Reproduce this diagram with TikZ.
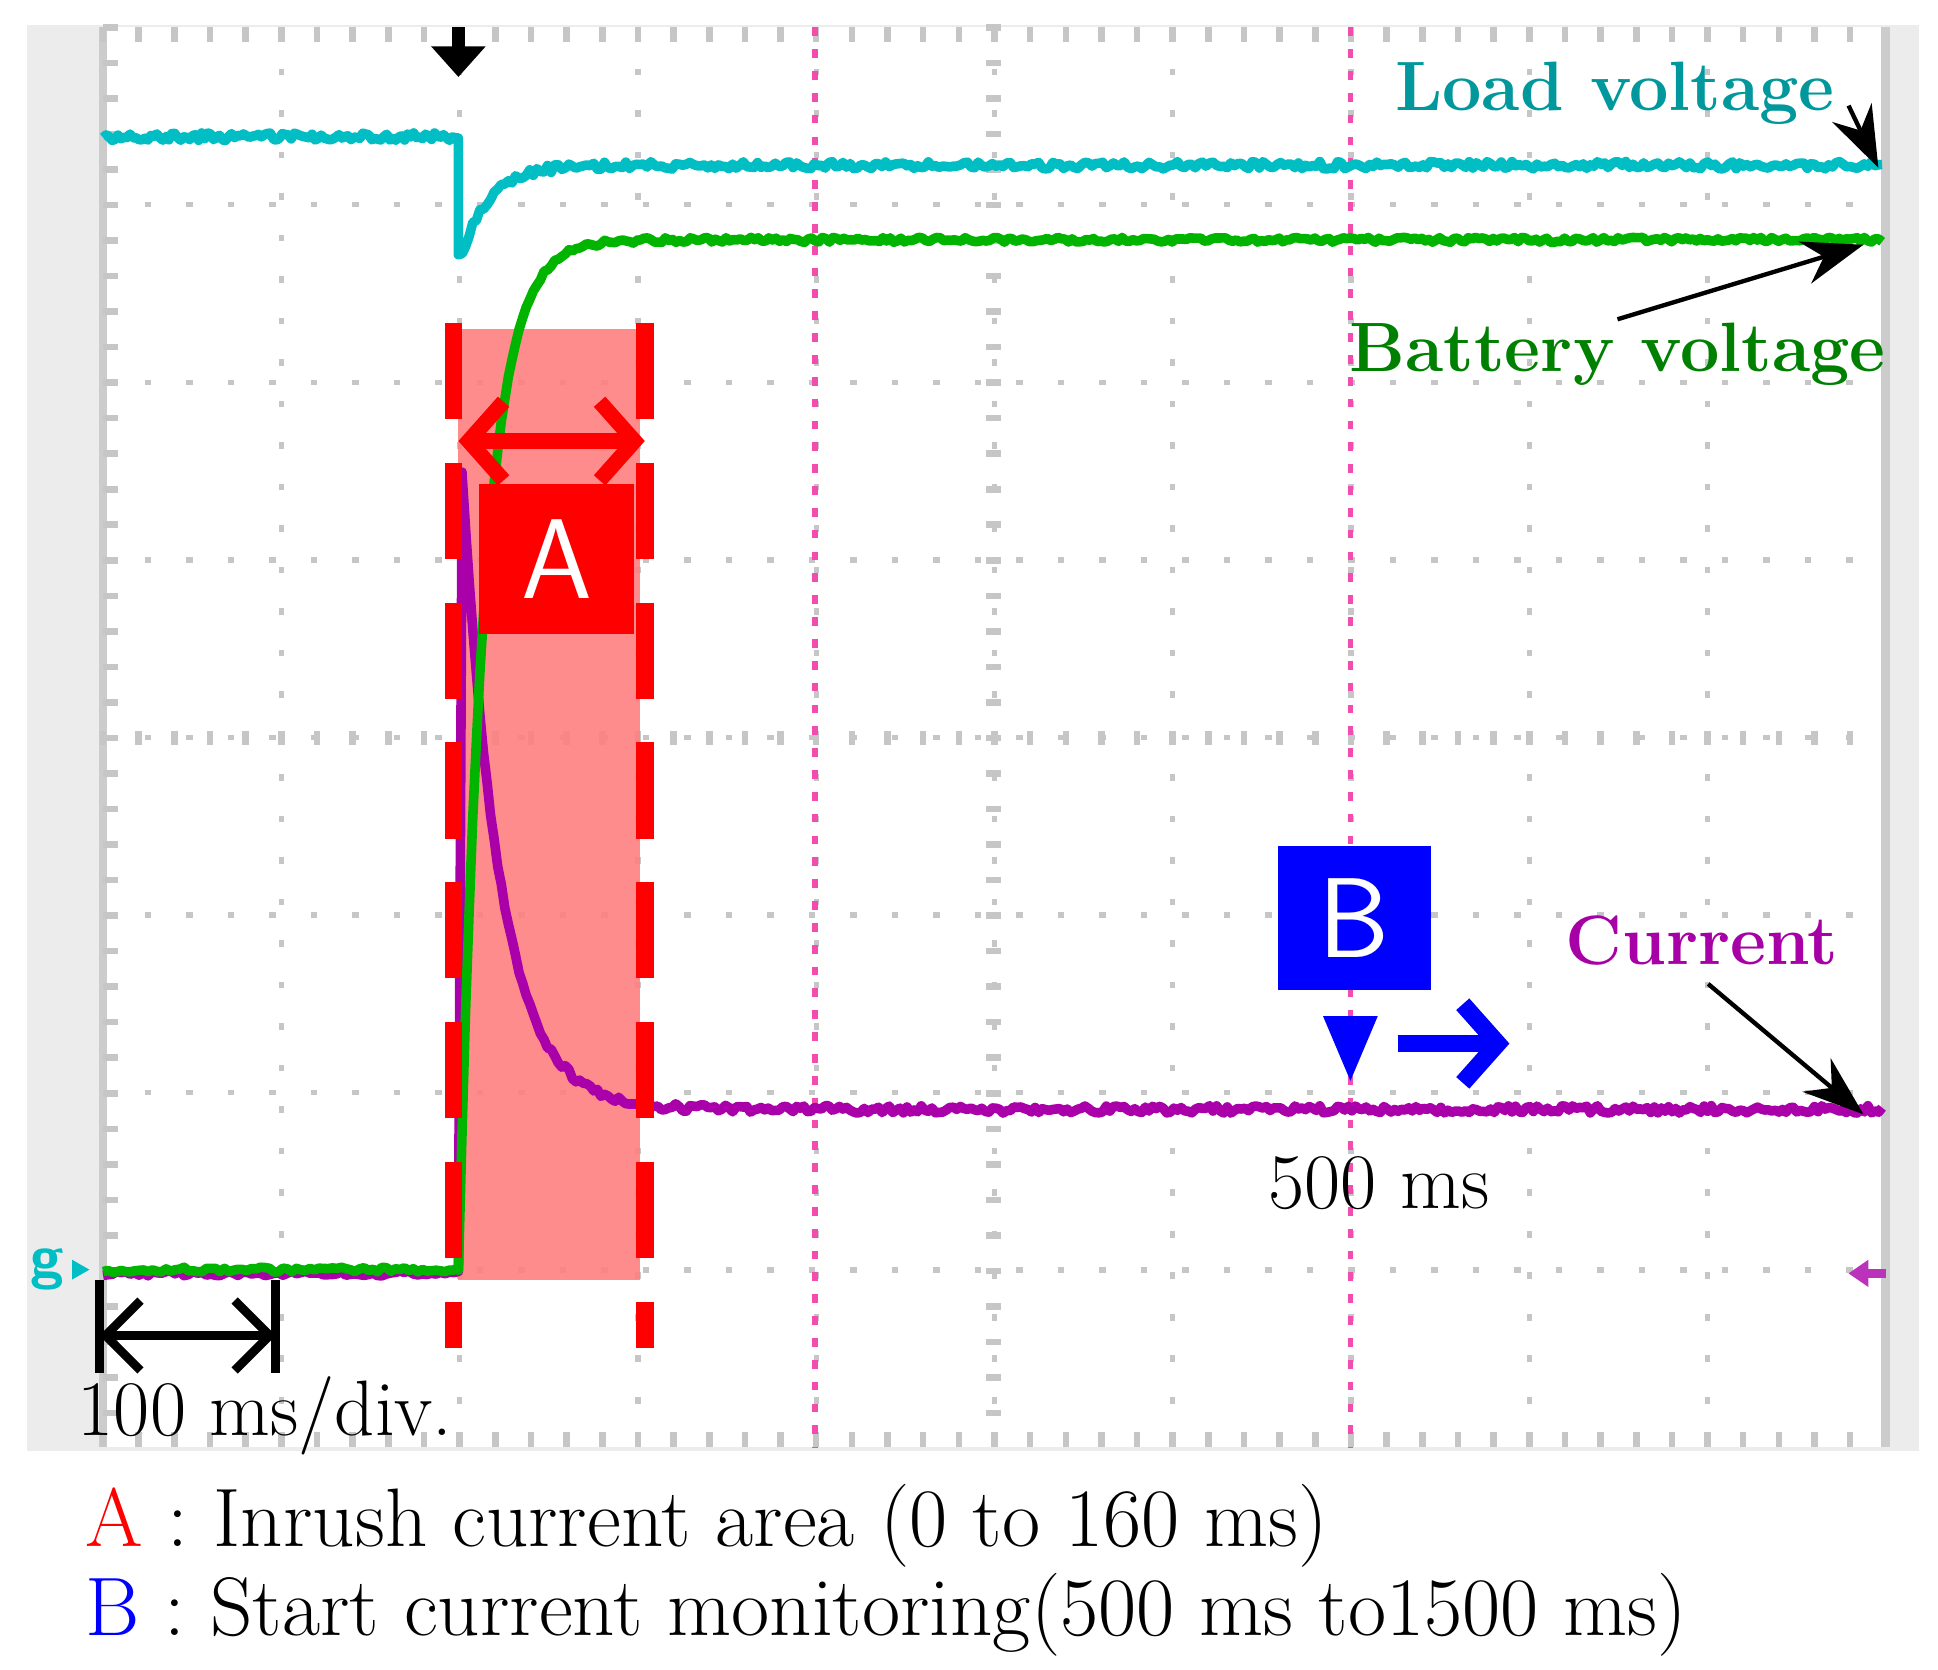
\documentclass[tikz,border=0pt]{standalone}
\usetikzlibrary{arrows.meta}
\begin{document}
\begin{tikzpicture}[x=0.01cm,y=-0.01cm,
  grid/.style={gray!45,line width=1.2pt,dash pattern=on 1.5pt off 8pt},
  trace/.style={line width=2.2pt,line join=round},
  lbl/.style={font=\fontsize{16}{20}\selectfont\bfseries,inner sep=0pt},
  call/.style={-{Stealth[length=14pt,width=10pt]},line width=1pt}]
\pgfmathsetseed{7}
\useasboundingbox (0,0) rectangle (1560,1344);
\definecolor{cy}{RGB}{0,190,195}
\definecolor{gr}{RGB}{0,180,0}
\definecolor{mg}{RGB}{170,0,170}
% frame
\fill[gray!15] (22,20) rectangle (1545,1168);
\fill[white] (83,22) rectangle (1518,1165);
\draw[gray!40,line width=2pt] (83,22) -- (83,1165) (1518,22)--(1518,1165);
% grid
\foreach \i in {1,...,9}{\draw[grid] ({83+143.5*\i},22) -- ({83+143.5*\i},1165);}
\foreach \j in {1,...,7}{\draw[grid] (83,{22+142.9*\j}) -- (1518,{22+142.9*\j});}
\foreach \t in {0,...,49}{
  \draw[gray!45,line width=1.5pt] ({83+28.7*\t},22)--({83+28.7*\t},34);
  \draw[gray!45,line width=1.5pt] ({83+28.7*\t},1153)--({83+28.7*\t},1165);
  \draw[gray!45,line width=1.5pt] ({83+28.7*\t},588)--({83+28.7*\t},600);}
\foreach \t in {0,...,39}{
  \draw[gray!45,line width=1.5pt] (83,{22+28.6*\t})--(95,{22+28.6*\t});
  \draw[gray!45,line width=1.5pt] (794,{22+28.6*\t})--(806,{22+28.6*\t});}
\draw[magenta!70,line width=1.3pt,dash pattern=on 2pt off 3pt] (656,22)--(656,1165) (1087,22)--(1087,1165);
% red area
\fill[red!50,opacity=0.9] (369,265) rectangle (515,1030);
% traces
\draw[trace,cy] plot[domain=83:369,samples=120] ({\x},{110+3*rand}) -- (369,205)
  -- plot[domain=372:1515,samples=400] ({\x},{133+72*exp(-(\x-372)/22)+3*rand});
\draw[trace,mg] plot[domain=83:369,samples=80] ({\x},{1025+2*rand}) -- (372,380)
  -- plot[domain=372:1515,samples=400] ({\x},{893-513*exp(-(\x-372)/30)+3*rand});
\draw[trace,gr] plot[domain=83:369,samples=80] ({\x},{1022+2*rand})
  -- plot[domain=369:1515,samples=400] ({\x},{193+830*exp(-(\x-369)/20)+2*rand});
% red markers
\draw[red,line width=4pt,dash pattern=on 22pt off 10pt] (365,260)--(365,1085) (519,260)--(519,1085);
\coordinate (al) at (369,355); \coordinate (ar) at (519,355);
\draw[red,line width=3.5pt,{Straight Barb[length=8pt,width=18pt]}-{Straight Barb[length=8pt,width=18pt]}] (al)--(ar);
\node[fill=red,text=white,minimum width=1.24cm,minimum height=1.2cm,inner sep=0pt,font=\sffamily\fontsize{26}{26}\selectfont] (A) at (448,450) {A};
% B
\node[fill=blue,text=white,minimum width=1.23cm,minimum height=1.16cm,inner sep=0pt,font=\sffamily\fontsize{26}{26}\selectfont] (B) at (1090,739) {B};
\fill[blue] (1065,818)--(1109,818)--(1087,870)--cycle;
\coordinate (b1) at (1125,840); \coordinate (b2) at (1215,840);
\draw[blue,line width=4pt,-{Straight Barb[length=8pt,width=18pt]}] (b1)--(b2);
\node[font=\fontsize{18}{22}\selectfont,inner sep=0pt] (ms) at (1110,952) {500 ms};
% trigger arrow
\coordinate (t1) at (369,22); \coordinate (t2) at (369,62);
\draw[line width=3pt,-{Triangle[length=7pt,width=12pt]}] (t1)--(t2);
% labels
\node[lbl,text=cy!80!black] (lv) at (1300,75) {Load voltage};
\coordinate (lve) at (1512,135);
\draw[call] (1488,85)--(lve);
\node[lbl,text=green!50!black] (bv) at (1302,285) {Battery voltage};
\coordinate (bve) at (1500,197);
\draw[call] (1302,257)--(bve);
\node[lbl,text=violet!70!magenta] (cu) at (1370,757) {Current};
\coordinate (cue) at (1500,897);
\draw[call] (1375,792)--(cue);
% side markers
\node[text=cy,font=\sffamily\bfseries\fontsize{14}{14}\selectfont,inner sep=0pt] (g) at (38,1022) {g};
\fill[cy] (58,1014)--(72,1022)--(58,1030)--cycle;
\fill[mg!80] (1488,1025)--(1504,1014)--(1504,1036)--cycle;
\draw[mg!80,line width=2pt] (1500,1025)--(1518,1025);
% scale arrow
\draw[line width=2pt] (80,1030)--(80,1105) (222,1030)--(222,1105);
\coordinate (s1) at (80,1075); \coordinate (s2) at (222,1075);
\draw[line width=2pt,{Straight Barb[length=8pt,width=16pt]}-{Straight Barb[length=8pt,width=16pt]}] (s1)--(s2);
\node[font=\fontsize{18}{22}\selectfont,inner sep=0pt,anchor=west] (div) at (62,1140) {100 ms/div.};
% legend
\node[font=\fontsize{19}{22}\selectfont,inner sep=0pt,anchor=west] (la) at (68,1228) {\textcolor{red}{A} : Inrush current area (0 to 160 ms)};
\node[font=\fontsize{19}{22}\selectfont,inner sep=0pt,anchor=west] (lb) at (68,1300) {\textcolor{blue}{B} : Start current monitoring(500 ms to1500 ms)};
\end{tikzpicture}
\end{document}
